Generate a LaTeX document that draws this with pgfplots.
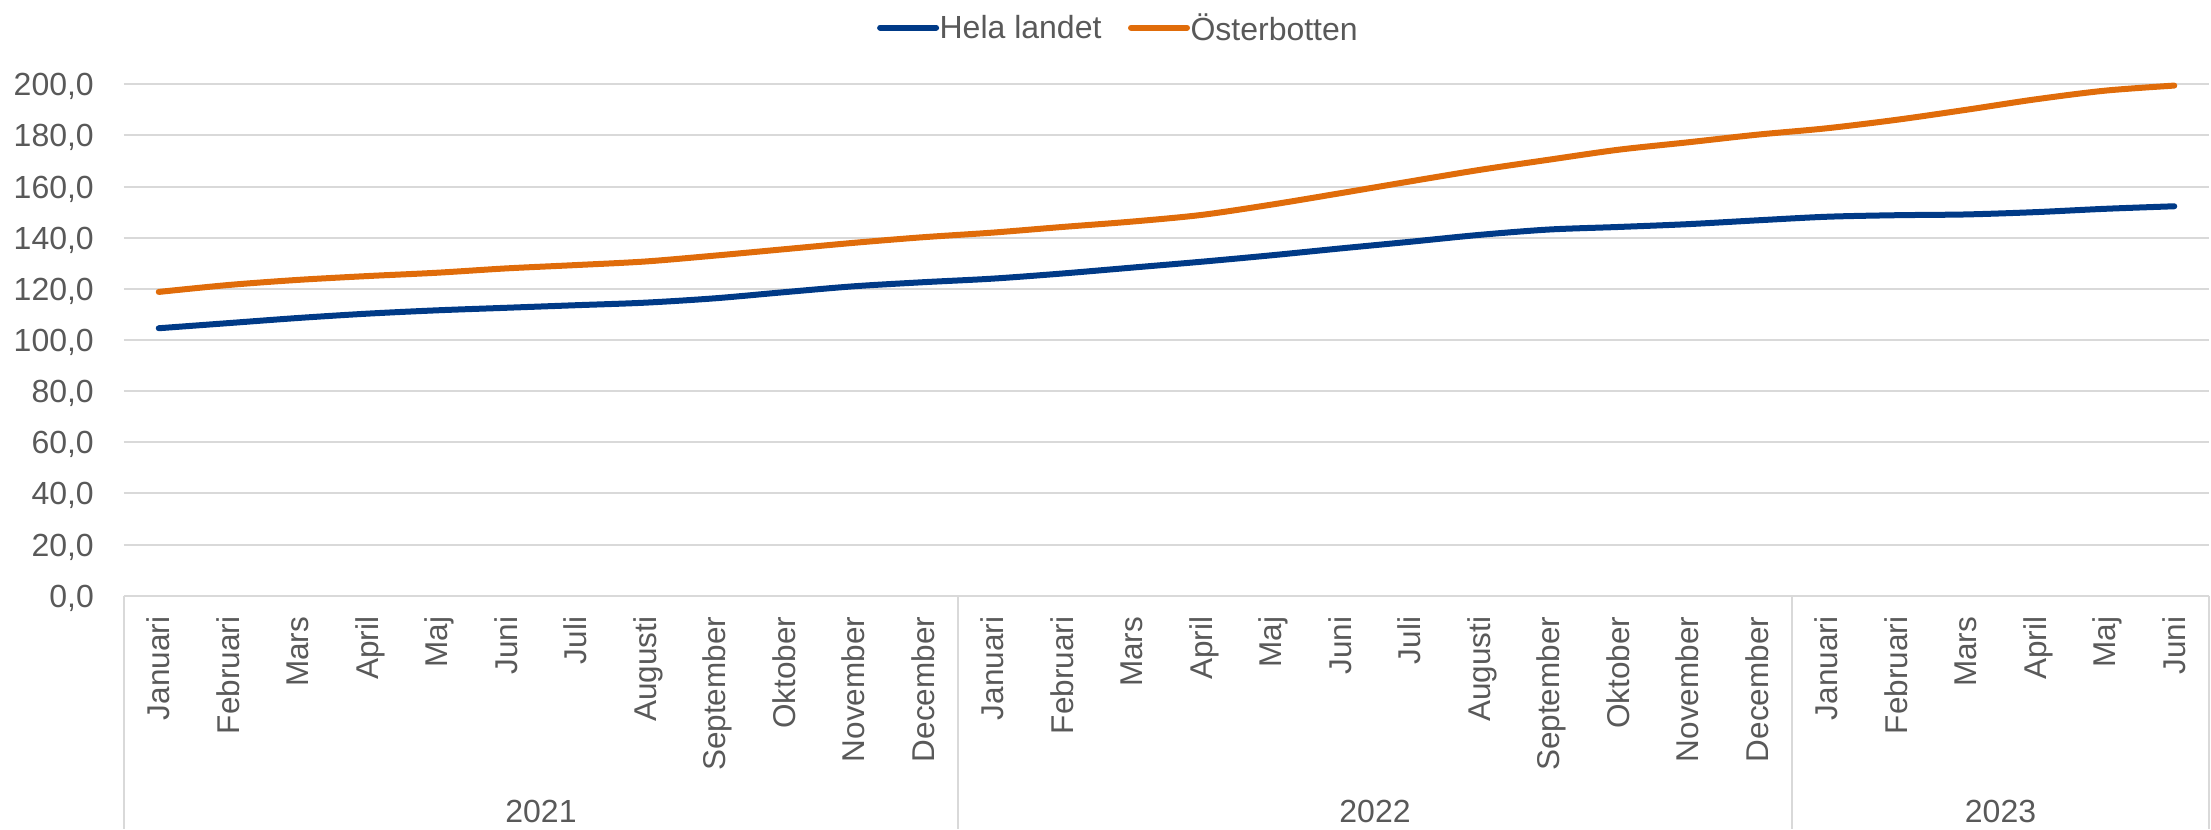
\documentclass[border=0pt]{standalone}
\usepackage{pgfplots}
\pgfplotsset{compat=1.18}
\usepackage{pgfplotstable}
\usepackage{fontspec}
\setmainfont{Liberation Sans}
\usetikzlibrary{calc}
\definecolor{hblue}{RGB}{0,58,135}
\definecolor{ora}{RGB}{224,108,10}
\definecolor{gridc}{RGB}{217,217,217}
\definecolor{txt}{RGB}{89,89,89}
\pgfplotstableread{
x hela oster
0 104.6 118.8
1 106.6 121.5
2 108.6 123.5
3 110.3 125.0
4 111.6 126.3
5 112.6 128.0
6 113.6 129.3
7 114.6 130.7
8 116.3 133.0
9 118.7 135.5
10 121.0 138.0
11 122.6 140.2
12 124.0 142.0
13 126.0 144.2
14 128.3 146.3
15 130.6 148.9
16 133.1 152.9
17 135.8 157.4
18 138.4 162.0
19 141.1 166.5
20 143.2 170.5
21 144.2 174.4
22 145.3 177.3
23 146.8 180.3
24 148.2 182.8
25 148.8 186.1
26 149.1 190.0
27 150.0 194.1
28 151.3 197.5
29 152.3 199.5
}\data
\begin{document}
\begin{tikzpicture}
\begin{axis}[name=ax, width=2085pt, height=511.4pt, scale only axis,
  xmin=-0.5, xmax=29.5, ymin=0, ymax=200,
  xtick={0,...,29},
  xticklabels={Januari,Februari,Mars,April,Maj,Juni,Juli,Augusti,September,Oktober,November,December,Januari,Februari,Mars,April,Maj,Juni,Juli,Augusti,September,Oktober,November,December,Januari,Februari,Mars,April,Maj,Juni},
  ytick={0,20,40,60,80,100,120,140,160,180,200},
  yticklabels={{0,0},{20,0},{40,0},{60,0},{80,0},{100,0},{120,0},{140,0},{160,0},{180,0},{200,0}},
  axis line style={draw=none}, major tick length=0pt,
  ymajorgrids, grid style={gridc, line width=2pt},
  tick label style={text=txt},
  xticklabel style={font=\fontsize{31.5}{36}\selectfont, rotate=90, anchor=east, inner sep=0pt, text height=28.5pt, text depth=6.7pt},
  xticklabel shift=21pt,
  yticklabel style={font=\fontsize{32}{38}\selectfont, anchor=east, inner sep=0pt, text height=23pt, text depth=0pt},
  yticklabel shift=30pt,
  clip=false,
  legend columns=2,
  legend style={at={(0.3612,1.1107)}, anchor=west, draw=none, fill=none, inner sep=0pt, outer sep=0pt,
    font=\fontsize{32}{38}\selectfont, text=txt,
    /tikz/every even column/.append style={column sep=26pt},
    nodes={inner sep=0.5pt}},
  legend image code/.code={\draw[#1] (0pt,0pt) -- (56pt,0pt);},
]
\addplot[hblue, line width=6pt, line cap=round, smooth, tension=0.5] table[x=x,y=hela]{\data};
\addlegendentry{Hela landet}
\addplot[ora, line width=6pt, line cap=round, smooth, tension=0.5] table[x=x,y=oster]{\data};
\addlegendentry{Österbotten}
\draw[gridc, line width=2pt] (axis cs:-0.5,0) -- ++(0pt,-233.3pt);
\draw[gridc, line width=2pt] (axis cs:11.5,0) -- ++(0pt,-233.3pt);
\draw[gridc, line width=2pt] (axis cs:23.5,0) -- ++(0pt,-233.3pt);
\draw[gridc, line width=2pt] (axis cs:29.5,0) -- ++(0pt,-233.3pt);
\node[text=txt, font=\fontsize{32}{38}\selectfont, inner sep=0pt, text depth=0pt] at ([yshift=-215.8pt]axis cs:5.5,0) {2021};
\node[text=txt, font=\fontsize{32}{38}\selectfont, inner sep=0pt, text depth=0pt] at ([yshift=-215.8pt]axis cs:17.5,0) {2022};
\node[text=txt, font=\fontsize{32}{38}\selectfont, inner sep=0pt, text depth=0pt] at ([yshift=-215.8pt]axis cs:26.5,0) {2023};
\end{axis}
\pgfresetboundingbox
\path[use as bounding box] ($(ax.south west)+(-124pt,-233.3pt)$) rectangle ($(ax.north east)+(2pt,84.3pt)$);
\end{tikzpicture}
\end{document}
